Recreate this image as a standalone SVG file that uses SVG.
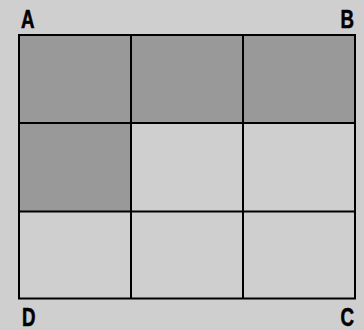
<svg xmlns="http://www.w3.org/2000/svg" width="364" height="330" viewBox="0 0 364 330">
<style>
.lbl{font-family:"Liberation Sans",Arial,sans-serif;font-weight:bold;font-size:26px;fill:#000;stroke:#000;stroke-width:0.6}
.dark{fill:#999999}
.grid{stroke:#000;stroke-width:2;fill:none}
</style>
<rect width="364" height="330" fill="#cfcfcf"/>
<g id="cells">
<rect class="dark" x="19" y="35" width="336" height="88"/>
<rect class="dark" x="19" y="123" width="112" height="88"/>
</g>
<g id="lines">
<rect class="grid" x="19" y="35" width="336" height="263.5"/>
<line class="grid" x1="131" y1="35" x2="131" y2="298.5"/>
<line class="grid" x1="243" y1="35" x2="243" y2="298.5"/>
<line class="grid" x1="19" y1="123" x2="355" y2="123"/>
<line class="grid" x1="19" y1="211.5" x2="355" y2="211.5"/>
</g>
<g id="labels">
<text class="lbl" transform="translate(21,28) scale(0.72,1)">A</text>
<text class="lbl" transform="translate(354,28) scale(0.72,1)" text-anchor="end">B</text>
<text class="lbl" transform="translate(22,326) scale(0.72,1)">D</text>
<text class="lbl" transform="translate(354,326) scale(0.72,1)" text-anchor="end">C</text>
</g>
</svg>
